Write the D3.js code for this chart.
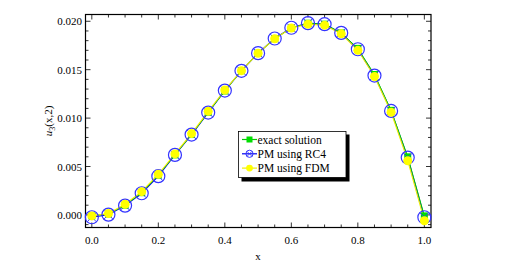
<!DOCTYPE html>
<html>
<head>
<meta charset="utf-8">
<script src="https://cdn.jsdelivr.net/npm/d3@7"></script>
<style>
  body { margin: 0; background: #fff; }
</style>
</head>
<body>
<svg id="chart"></svg>
<script>
const width = 507;
const height = 269;

// data
const xs = [0, 0.05, 0.1, 0.15, 0.2, 0.25, 0.3, 0.35, 0.4, 0.45, 0.5,
            0.55, 0.6, 0.65, 0.7, 0.75, 0.8, 0.85, 0.9, 0.95, 1.0];
const exact = [-0.0001, 0.0001, 0.0010, 0.0023, 0.0041, 0.0062, 0.0083, 0.0106, 0.0128, 0.0149, 0.0167,
               0.0182, 0.0193, 0.0198, 0.0197, 0.0188, 0.0172, 0.0145, 0.0108, 0.0060, -0.0001];
const rc4 = [-0.00024, 0.00003, 0.00096, 0.00224, 0.0040, 0.0062, 0.0083, 0.01057, 0.01284, 0.01488, 0.01671,
             0.01822, 0.01933, 0.01981, 0.0197, 0.0188, 0.01711, 0.01439, 0.01074, 0.00592, -0.00024];
const fdm = [-0.0001, 0.00015, 0.0011, 0.0024, 0.0042, 0.0063, 0.0084, 0.0107, 0.0129, 0.0149, 0.0167,
             0.0182, 0.0193, 0.0197, 0.0196, 0.0187, 0.0170, 0.0143, 0.0106, 0.0056, -0.0006];
const legendLabels = ['exact solution', 'PM using RC4', 'PM using FDM'];
const xTicks = [0, 0.2, 0.4, 0.6, 0.8, 1.0];
const yTicks = [0, 0.005, 0.010, 0.015, 0.020];

const serif = 'Liberation Serif, Times New Roman, DejaVu Serif, serif';

const svg = d3.select('#chart').attr('width', width).attr('height', height)
  .attr('font-family', serif);

const pLeft = 85.5, pRight = 431, pTop = 14.5, pBottom = 227.5;
const x = d3.scaleLinear().domain([-0.019, 1.02]).range([pLeft, pRight]);
const y = d3.scaleLinear().domain([-0.0013, 0.0207]).range([pBottom, pTop]);

// frame
svg.append('rect')
  .attr('x', pLeft).attr('y', pTop)
  .attr('width', pRight - pLeft).attr('height', pBottom - pTop)
  .attr('fill', 'none').attr('stroke', '#000').attr('stroke-width', 1.2);

const xMinor = d3.range(0, 1.0001, 0.05);
const yMinor = d3.range(-0.001, 0.0205, 0.001);
const tickG = svg.append('g').attr('stroke', '#000').attr('stroke-width', 0.8);

xMinor.forEach(v => {
  const major = xTicks.some(t => Math.abs(t - v) < 1e-6);
  const len = major ? 5 : 3;
  tickG.append('line').attr('x1', x(v)).attr('x2', x(v)).attr('y1', pBottom).attr('y2', pBottom - len);
  tickG.append('line').attr('x1', x(v)).attr('x2', x(v)).attr('y1', pTop).attr('y2', pTop + len);
});
yMinor.forEach(v => {
  const major = yTicks.some(t => Math.abs(t - v) < 1e-7);
  const len = major ? 5 : 3;
  tickG.append('line').attr('y1', y(v)).attr('y2', y(v)).attr('x1', pLeft).attr('x2', pLeft + len);
  tickG.append('line').attr('y1', y(v)).attr('y2', y(v)).attr('x1', pRight).attr('x2', pRight - len);
});

svg.append('g').selectAll('text').data(xTicks).join('text')
  .attr('x', d => x(d)).attr('y', 244)
  .attr('text-anchor', 'middle').attr('font-size', 11)
  .text(d => d3.format('.1f')(d));

svg.append('g').selectAll('text').data(yTicks).join('text')
  .attr('x', 82).attr('y', d => y(d) + 4)
  .attr('text-anchor', 'end').attr('font-size', 11)
  .text(d => d3.format('.3f')(d));

// axis labels
svg.append('text').attr('x', 258).attr('y', 260).attr('text-anchor', 'middle')
  .attr('font-size', 11).text('x');

const yl = svg.append('text').attr('transform', 'translate(52,121) rotate(-90)')
  .attr('text-anchor', 'middle').attr('font-size', 11);
yl.append('tspan').attr('font-style', 'italic').text('u');
yl.append('tspan').attr('font-size', 8).attr('dy', 3).text('3');
yl.append('tspan').attr('dy', -3).text('(x,2)');

const pts = arr => xs.map((v, i) => [v, arr[i]]);
const line = d3.line().x(d => x(d[0])).y(d => y(d[1]));

// lines
svg.append('path').datum(pts(rc4)).attr('d', line)
  .attr('fill', 'none').attr('stroke', '#0000ee').attr('stroke-width', 1.1);
svg.append('path').datum(pts(exact)).attr('d', line)
  .attr('fill', 'none').attr('stroke', '#00cc00').attr('stroke-width', 1);
svg.append('path').datum(pts(fdm)).attr('d', line)
  .attr('fill', 'none').attr('stroke', '#eeee00').attr('stroke-width', 1.1);

function drawSquare(g, cx, cy) {
  g.append('rect').attr('x', cx - 3.5).attr('y', cy - 3.5).attr('width', 7).attr('height', 7)
    .attr('fill', '#00dd00');
}
function drawCross(g, cx, cy) {
  g.append('circle').attr('cx', cx).attr('cy', cy).attr('r', 6.5)
    .attr('fill', 'none').attr('stroke', '#3333ff').attr('stroke-width', 1.2);
  const r = 4.5;
  g.append('line').attr('x1', cx - r).attr('y1', cy - r).attr('x2', cx + r).attr('y2', cy + r)
    .attr('stroke', '#3333ff').attr('stroke-width', 0.9);
  g.append('line').attr('x1', cx - r).attr('y1', cy + r).attr('x2', cx + r).attr('y2', cy - r)
    .attr('stroke', '#3333ff').attr('stroke-width', 0.9);
}
function drawDot(g, cx, cy) {
  g.append('circle').attr('cx', cx).attr('cy', cy).attr('r', 4.5).attr('fill', '#ffff00');
}

const marks = svg.append('g');
xs.forEach((v, i) => drawSquare(marks, x(v), y(exact[i])));
xs.forEach((v, i) => drawCross(marks, x(v), y(rc4[i])));
xs.forEach((v, i) => drawDot(marks, x(v), y(fdm[i])));

// legend
const lg = svg.append('g');
lg.append('rect').attr('x', 241.5).attr('y', 134.5).attr('width', 108).attr('height', 47).attr('fill', '#000');
lg.append('rect').attr('x', 238.5).attr('y', 131.5).attr('width', 107.5).attr('height', 46)
  .attr('fill', '#fff').attr('stroke', '#000').attr('stroke-width', 0.8);
const legColors = ['#00cc00', '#0000ee', '#eeee00'];
const legDraw = [
  (g, cx, cy) => g.append('rect').attr('x', cx - 3).attr('y', cy - 3).attr('width', 6).attr('height', 6).attr('fill', '#00dd00'),
  (g, cx, cy) => {
    g.append('circle').attr('cx', cx).attr('cy', cy).attr('r', 3.6).attr('fill', 'none').attr('stroke', '#3333ff').attr('stroke-width', 1);
    g.append('line').attr('x1', cx - 2.5).attr('y1', cy - 2.5).attr('x2', cx + 2.5).attr('y2', cy + 2.5).attr('stroke', '#3333ff').attr('stroke-width', 0.8);
    g.append('line').attr('x1', cx - 2.5).attr('y1', cy + 2.5).attr('x2', cx + 2.5).attr('y2', cy - 2.5).attr('stroke', '#3333ff').attr('stroke-width', 0.8);
  },
  (g, cx, cy) => g.append('circle').attr('cx', cx).attr('cy', cy).attr('r', 3.4).attr('fill', '#ffff00')
];
legendLabels.forEach((lab, i) => {
  const cy = 139.5 + i * 14.3;
  lg.append('line').attr('x1', 242).attr('x2', 257).attr('y1', cy).attr('y2', cy)
    .attr('stroke', legColors[i]).attr('stroke-width', 1.2);
  legDraw[i](lg, 249.5, cy);
  lg.append('text').attr('x', 257.5).attr('y', cy + 4).attr('font-size', 11.5).text(lab);
});
</script>
</body>
</html>
